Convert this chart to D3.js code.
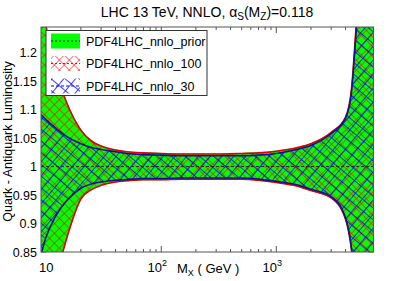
<!DOCTYPE html>
<html>
<head>
<meta charset="utf-8">
<script src="https://cdn.jsdelivr.net/npm/d3@7"></script>
<style>
  body { margin: 0; background: #fff; }
  svg { display: block; font-family: "Liberation Sans", Arial, sans-serif; }
</style>
</head>
<body>
<div id="chart"></div>
<script>
// invariant mass values (GeV)
const massGeV = [9, 10, 12, 15, 20, 25, 30, 40, 50, 70, 100, 150, 200, 300, 500, 700, 1000, 1500, 2000, 3000, 4000, 4500, 5000, 6000, 7000];

// ratio to central value, upper / lower edge of each band
const priorUp = [1.315, 1.248, 1.172, 1.115, 1.066, 1.046, 1.037, 1.030, 1.027, 1.025, 1.024, 1.023, 1.023, 1.023, 1.024, 1.025, 1.028, 1.034, 1.041, 1.061, 1.088, 1.137, 1.265, 1.45, 1.6];
const priorDn = [0.69, 0.735, 0.795, 0.871, 0.942, 0.959, 0.966, 0.972, 0.974, 0.976, 0.976, 0.977, 0.977, 0.977, 0.977, 0.975, 0.971, 0.965, 0.957, 0.944, 0.906, 0.853, 0.755, 0.61, 0.5];
const nnlo100Up = [1.31, 1.245, 1.17, 1.113, 1.064, 1.044, 1.036, 1.029, 1.026, 1.024, 1.023, 1.022, 1.022, 1.022, 1.023, 1.024, 1.027, 1.033, 1.040, 1.060, 1.087, 1.135, 1.26, 1.45, 1.6];
const nnlo100Dn = [0.70, 0.74, 0.80, 0.873, 0.943, 0.960, 0.967, 0.973, 0.975, 0.977, 0.977, 0.978, 0.978, 0.978, 0.978, 0.976, 0.972, 0.966, 0.958, 0.945, 0.907, 0.855, 0.76, 0.62, 0.5];
const nnlo30Up = [1.091, 1.082, 1.068, 1.053, 1.040, 1.033, 1.030, 1.026, 1.023, 1.021, 1.020, 1.019, 1.019, 1.019, 1.019, 1.020, 1.023, 1.030, 1.037, 1.058, 1.085, 1.13, 1.25, 1.45, 1.6];
const nnlo30Dn = [0.845, 0.877, 0.912, 0.940, 0.962, 0.970, 0.973, 0.976, 0.977, 0.979, 0.979, 0.980, 0.980, 0.980, 0.980, 0.978, 0.974, 0.968, 0.960, 0.947, 0.910, 0.857, 0.76, 0.62, 0.5];
const centralVal = massGeV.map(() => 1);

const yTicks = [0.85, 0.9, 0.95, 1, 1.05, 1.1, 1.15, 1.2];
const xMajor = [10, 100, 1000];
const xMinor = [20, 30, 40, 50, 60, 70, 80, 90, 200, 300, 400, 500, 600, 700, 800, 900, 2000, 3000, 4000, 5000, 6000];
const legendNames = ['PDF4LHC_nnlo_prior', 'PDF4LHC_nnlo_100', 'PDF4LHC_nnlo_30'];

const width = 415;
const height = 281;
const pLeft = 41, pRight = 373.5, pTop = 27, pBottom = 252;

const svg = d3.select('#chart').append('svg').attr('width', width).attr('height', height);

const x = d3.scaleLog().domain([9, 7000]).range([pLeft, pRight]);
const y = d3.scaleLinear().domain([0.85, 1.245]).range([pBottom, pTop]);

// patterns
const defs = svg.append('defs');
const pRed = defs.append('pattern').attr('id', 'hatchRed')
  .attr('patternUnits', 'userSpaceOnUse').attr('width', 7).attr('height', 7)
  .attr('patternTransform', 'rotate(45)');
pRed.append('line').attr('x1', 0).attr('y1', 0).attr('x2', 0).attr('y2', 7)
  .attr('stroke', '#ff0000').attr('stroke-width', 1.1);
pRed.append('line').attr('x1', 0).attr('y1', 0).attr('x2', 7).attr('y2', 0)
  .attr('stroke', '#ff0000').attr('stroke-width', 1.1);

const pBlue = defs.append('pattern').attr('id', 'hatchBlue')
  .attr('patternUnits', 'userSpaceOnUse').attr('width', 9).attr('height', 9)
  .attr('patternTransform', 'rotate(40)');
pBlue.append('line').attr('x1', 0).attr('y1', 0).attr('x2', 0).attr('y2', 9)
  .attr('stroke', '#0000ff').attr('stroke-width', 1.5);
pBlue.append('line').attr('x1', 0).attr('y1', 0).attr('x2', 9).attr('y2', 0)
  .attr('stroke', '#0000ff').attr('stroke-width', 1.5);

defs.append('clipPath').attr('id', 'plotClip')
  .append('rect').attr('x', pLeft).attr('y', pTop).attr('width', pRight - pLeft).attr('height', pBottom - pTop);

// ticks (drawn under the bands)
const tickG = svg.append('g').attr('stroke', '#555').attr('stroke-width', 1);
xMajor.forEach(v => {
  tickG.append('line').attr('x1', x(v)).attr('x2', x(v)).attr('y1', pBottom).attr('y2', pBottom - 6);
  tickG.append('line').attr('x1', x(v)).attr('x2', x(v)).attr('y1', pTop).attr('y2', pTop + 6);
});
xMinor.forEach(v => {
  tickG.append('line').attr('x1', x(v)).attr('x2', x(v)).attr('y1', pBottom).attr('y2', pBottom - 3);
  tickG.append('line').attr('x1', x(v)).attr('x2', x(v)).attr('y1', pTop).attr('y2', pTop + 3);
});
yTicks.forEach(v => {
  tickG.append('line').attr('x1', pLeft).attr('x2', pLeft + 5).attr('y1', y(v)).attr('y2', y(v));
  tickG.append('line').attr('x1', pRight).attr('x2', pRight - 5).attr('y1', y(v)).attr('y2', y(v));
});

// bands
const plot = svg.append('g').attr('clip-path', 'url(#plotClip)');
const band = (up, dn) => d3.area()
  .x((d, i) => x(massGeV[i]))
  .y0((d, i) => y(dn[i]))
  .y1((d, i) => y(up[i]))
  .curve(d3.curveMonotoneX)(massGeV);
const edge = vals => d3.line()
  .x((d, i) => x(massGeV[i]))
  .y((d, i) => y(vals[i]))
  .curve(d3.curveMonotoneX)(massGeV);

plot.append('path').attr('d', band(priorUp, priorDn)).attr('fill', '#00ff00');
plot.append('path').attr('d', band(nnlo100Up, nnlo100Dn)).attr('fill', 'url(#hatchRed)');
plot.append('path').attr('d', band(nnlo30Up, nnlo30Dn)).attr('fill', 'url(#hatchBlue)');

[nnlo100Up, nnlo100Dn].forEach(v => {
  plot.append('path').attr('d', edge(v)).attr('fill', 'none').attr('stroke', '#e00000').attr('stroke-width', 1.6);
});
[nnlo30Up, nnlo30Dn].forEach(v => {
  plot.append('path').attr('d', edge(v)).attr('fill', 'none').attr('stroke', '#10109a').attr('stroke-width', 1.6);
});
plot.append('path').attr('d', edge(centralVal)).attr('fill', 'none')
  .attr('stroke', '#222').attr('stroke-width', 1).attr('stroke-dasharray', '3,2');

// frame
svg.append('rect').attr('x', pLeft).attr('y', pTop).attr('width', pRight - pLeft).attr('height', pBottom - pTop)
  .attr('fill', 'none').attr('stroke', '#555').attr('stroke-width', 1);

// y tick labels
svg.append('g').selectAll('text').data(yTicks).join('text')
  .attr('x', pLeft - 4).attr('y', d => y(d) + 4.5)
  .attr('text-anchor', 'end').attr('font-size', 12.5).attr('fill', '#000')
  .text(d => d3.format('')(d));

// x tick labels
const xl = svg.append('g').attr('font-size', 13).attr('fill', '#000');
xl.append('text').attr('x', x(10)).attr('y', 272).attr('text-anchor', 'middle').text('10');
[[100, '2'], [1000, '3']].forEach(([v, e]) => {
  const t = xl.append('text').attr('x', x(v) - 4).attr('y', 272).attr('text-anchor', 'middle');
  t.append('tspan').text('10');
  t.append('tspan').attr('dy', -6).attr('font-size', 9).text(e);
});
const xt = xl.append('text').attr('x', 177).attr('y', 273);
xt.append('tspan').text('M');
xt.append('tspan').attr('dy', 3).attr('font-size', 9).text('X');
xt.append('tspan').attr('dy', -3).text(' ( GeV )');

// y axis title
svg.append('text').attr('transform', 'translate(12,' + ((pTop + pBottom) / 2 + 2) + ') rotate(-90)')
  .attr('text-anchor', 'middle').attr('font-size', 12.5).attr('fill', '#000')
  .text('Quark - Antiquark Luminosity');

// title
const title = svg.append('text').attr('x', 207).attr('y', 17).attr('text-anchor', 'middle')
  .attr('font-size', 14).attr('fill', '#000');
title.append('tspan').text('LHC 13 TeV, NNLO, α');
title.append('tspan').attr('dy', 3).attr('font-size', 10).text('S');
title.append('tspan').attr('dy', -3).text('(M');
title.append('tspan').attr('dy', 3).attr('font-size', 10).text('Z');
title.append('tspan').attr('dy', -3).text(')=0.118');

// legend
const lg = svg.append('g');
lg.append('rect').attr('x', 46).attr('y', 30.5).attr('width', 161).attr('height', 65)
  .attr('fill', '#fff').attr('stroke', '#333').attr('stroke-width', 1);
const fills = ['#00ff00', 'url(#hatchRed)', 'url(#hatchBlue)'];
const midStroke = ['#222', '#ff0000', '#0000ff'];
const dash = ['2,2', '2,2', '3,2'];
const rowY = [41, 63.5, 86];
legendNames.forEach((name, i) => {
  lg.append('rect').attr('x', 51).attr('y', rowY[i] - 7.5).attr('width', 29).attr('height', 15)
    .attr('fill', fills[i]);
  lg.append('line').attr('x1', 51).attr('x2', 80).attr('y1', rowY[i]).attr('y2', rowY[i])
    .attr('stroke', midStroke[i]).attr('stroke-width', 1).attr('stroke-dasharray', dash[i]);
  lg.append('text').attr('x', 86).attr('y', rowY[i] + 4.5).attr('font-size', 12.5).attr('fill', '#000')
    .text(name);
});
</script>
</body>
</html>
